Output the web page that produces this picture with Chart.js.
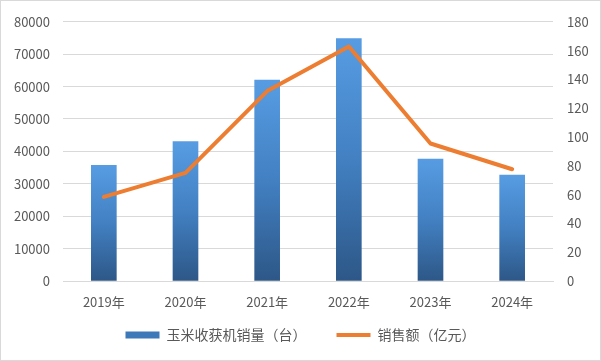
<!DOCTYPE html>
<html>
<head>
<meta charset="utf-8">
<script src="https://cdn.jsdelivr.net/npm/chart.js@4"></script>
<style>
  html, body { margin: 0; padding: 0; background: #fff; }
  #wrap { width: 601px; height: 361px; }
</style>
</head>
<body>
<div id="wrap"><canvas id="salesChart" width="601" height="361"></canvas></div>
<script>
const years = ['2019年', '2020年', '2021年', '2022年', '2023年', '2024年'];
const unitsSold = [35700, 43000, 62000, 74800, 37600, 32700];
const salesValue = [58.4, 75.1, 131.9, 162.8, 95.5, 77.6];

const FONT = '"Noto Sans CJK SC", "Noto Sans", sans-serif';
const TEXT_COLOR = '#595959';
const GRID_COLOR = '#d9d9d9';
const BAR_MID = '#3d78b8';

// bar fill: light blue at the top of each bar, dark at the bottom
function barFill(context) {
    const chart = context.chart;
    const area = chart.chartArea;
    if (!area || context.type !== 'data') return BAR_MID;
    const yScale = chart.scales.y;
    const top = yScale.getPixelForValue(context.parsed.y);
    const bottom = yScale.getPixelForValue(0);
    if (!isFinite(top) || bottom - top < 1) return BAR_MID;
    const g = chart.ctx.createLinearGradient(0, top, 0, bottom);
    g.addColorStop(0, '#579ce2');
    g.addColorStop(0.5, '#4280c2');
    g.addColorStop(1, '#2d5787');
    return g;
}

const frame = {
    id: 'frame',
    afterInit(chart) {
        // keep the legend box short so the plot area ends where it should
        const legend = chart.legend;
        if (legend) {
            const fit = legend.fit;
            legend.fit = function () {
                fit.call(this);
                this.height = 34;
            };
        }
    },
    afterLayout(chart) {
        // the legend's item gap also pads it vertically, pull its top back up
        if (chart.legend) {
            chart.legend.top -= 21;
        }
    },
    beforeDraw(chart) {
        const ctx = chart.ctx;
        ctx.save();
        ctx.fillStyle = '#fff';
        ctx.fillRect(0, 0, chart.width, chart.height);
        ctx.strokeStyle = GRID_COLOR;
        ctx.lineWidth = 1;
        ctx.strokeRect(0.5, 0.5, chart.width - 1, chart.height - 1);
        ctx.restore();
    }
};

const salesChart = new Chart(document.getElementById('salesChart').getContext('2d'), {
    data: {
        labels: years,
        datasets: [{
            type: 'bar',
            label: '玉米收获机销量（台）',
            data: unitsSold,
            backgroundColor: barFill,
            barThickness: 25,
            yAxisID: 'y',
            order: 2,
            pointStyle: 'rect'
        }, {
            type: 'line',
            label: '销售额（亿元）',
            data: salesValue,
            borderColor: '#ed7d31',
            backgroundColor: '#ed7d31',
            borderWidth: 4,
            pointRadius: 0,
            tension: 0,
            borderJoinStyle: 'round',
            borderCapStyle: 'round',
            yAxisID: 'y1',
            order: 1,
            pointStyle: 'line'
        }]
    },
    options: {
        responsive: false,
        animation: false,
        layout: {
            padding: { top: 19, left: 0, right: 0, bottom: 8 }
        },
        plugins: {
            tooltip: { enabled: false },
            legend: {
                position: 'bottom',
                labels: {
                    usePointStyle: true,
                    pointStyleWidth: 34,
                    boxHeight: 7,
                    padding: 30,
                    color: TEXT_COLOR,
                    font: { family: FONT, size: 14 },
                    sort: (a, b) => a.datasetIndex - b.datasetIndex,
                    generateLabels: (chart) => {
                        const items = Chart.defaults.plugins.legend.labels.generateLabels(chart);
                        items.forEach(item => {
                            if (item.datasetIndex === 0) {
                                item.fillStyle = BAR_MID;
                                item.strokeStyle = BAR_MID;
                            }
                        });
                        return items;
                    }
                }
            }
        },
        scales: {
            x: {
                grid: { display: false },
                border: { display: true, color: GRID_COLOR },
                ticks: {
                    color: TEXT_COLOR,
                    font: { family: FONT, size: 13 },
                    padding: 5,
                    maxRotation: 0
                },
                afterFit: (axis) => { axis.height = 38; }
            },
            y: {
                position: 'left',
                min: 0,
                max: 80000,
                grid: { color: GRID_COLOR, drawTicks: false },
                border: { display: false },
                ticks: {
                    stepSize: 10000,
                    padding: 13,
                    color: TEXT_COLOR,
                    font: { family: FONT, size: 13 },
                    callback: (v) => String(v)
                },
                afterFit: (axis) => { axis.width = 63; }
            },
            y1: {
                position: 'right',
                min: 0,
                max: 180,
                grid: { display: false, drawTicks: false },
                border: { display: false },
                ticks: {
                    stepSize: 20,
                    padding: 14,
                    color: TEXT_COLOR,
                    font: { family: FONT, size: 13 },
                    callback: (v) => String(v)
                },
                afterFit: (axis) => { axis.width = 48; }
            }
        }
    },
    plugins: [frame]
});
</script>
</body>
</html>
